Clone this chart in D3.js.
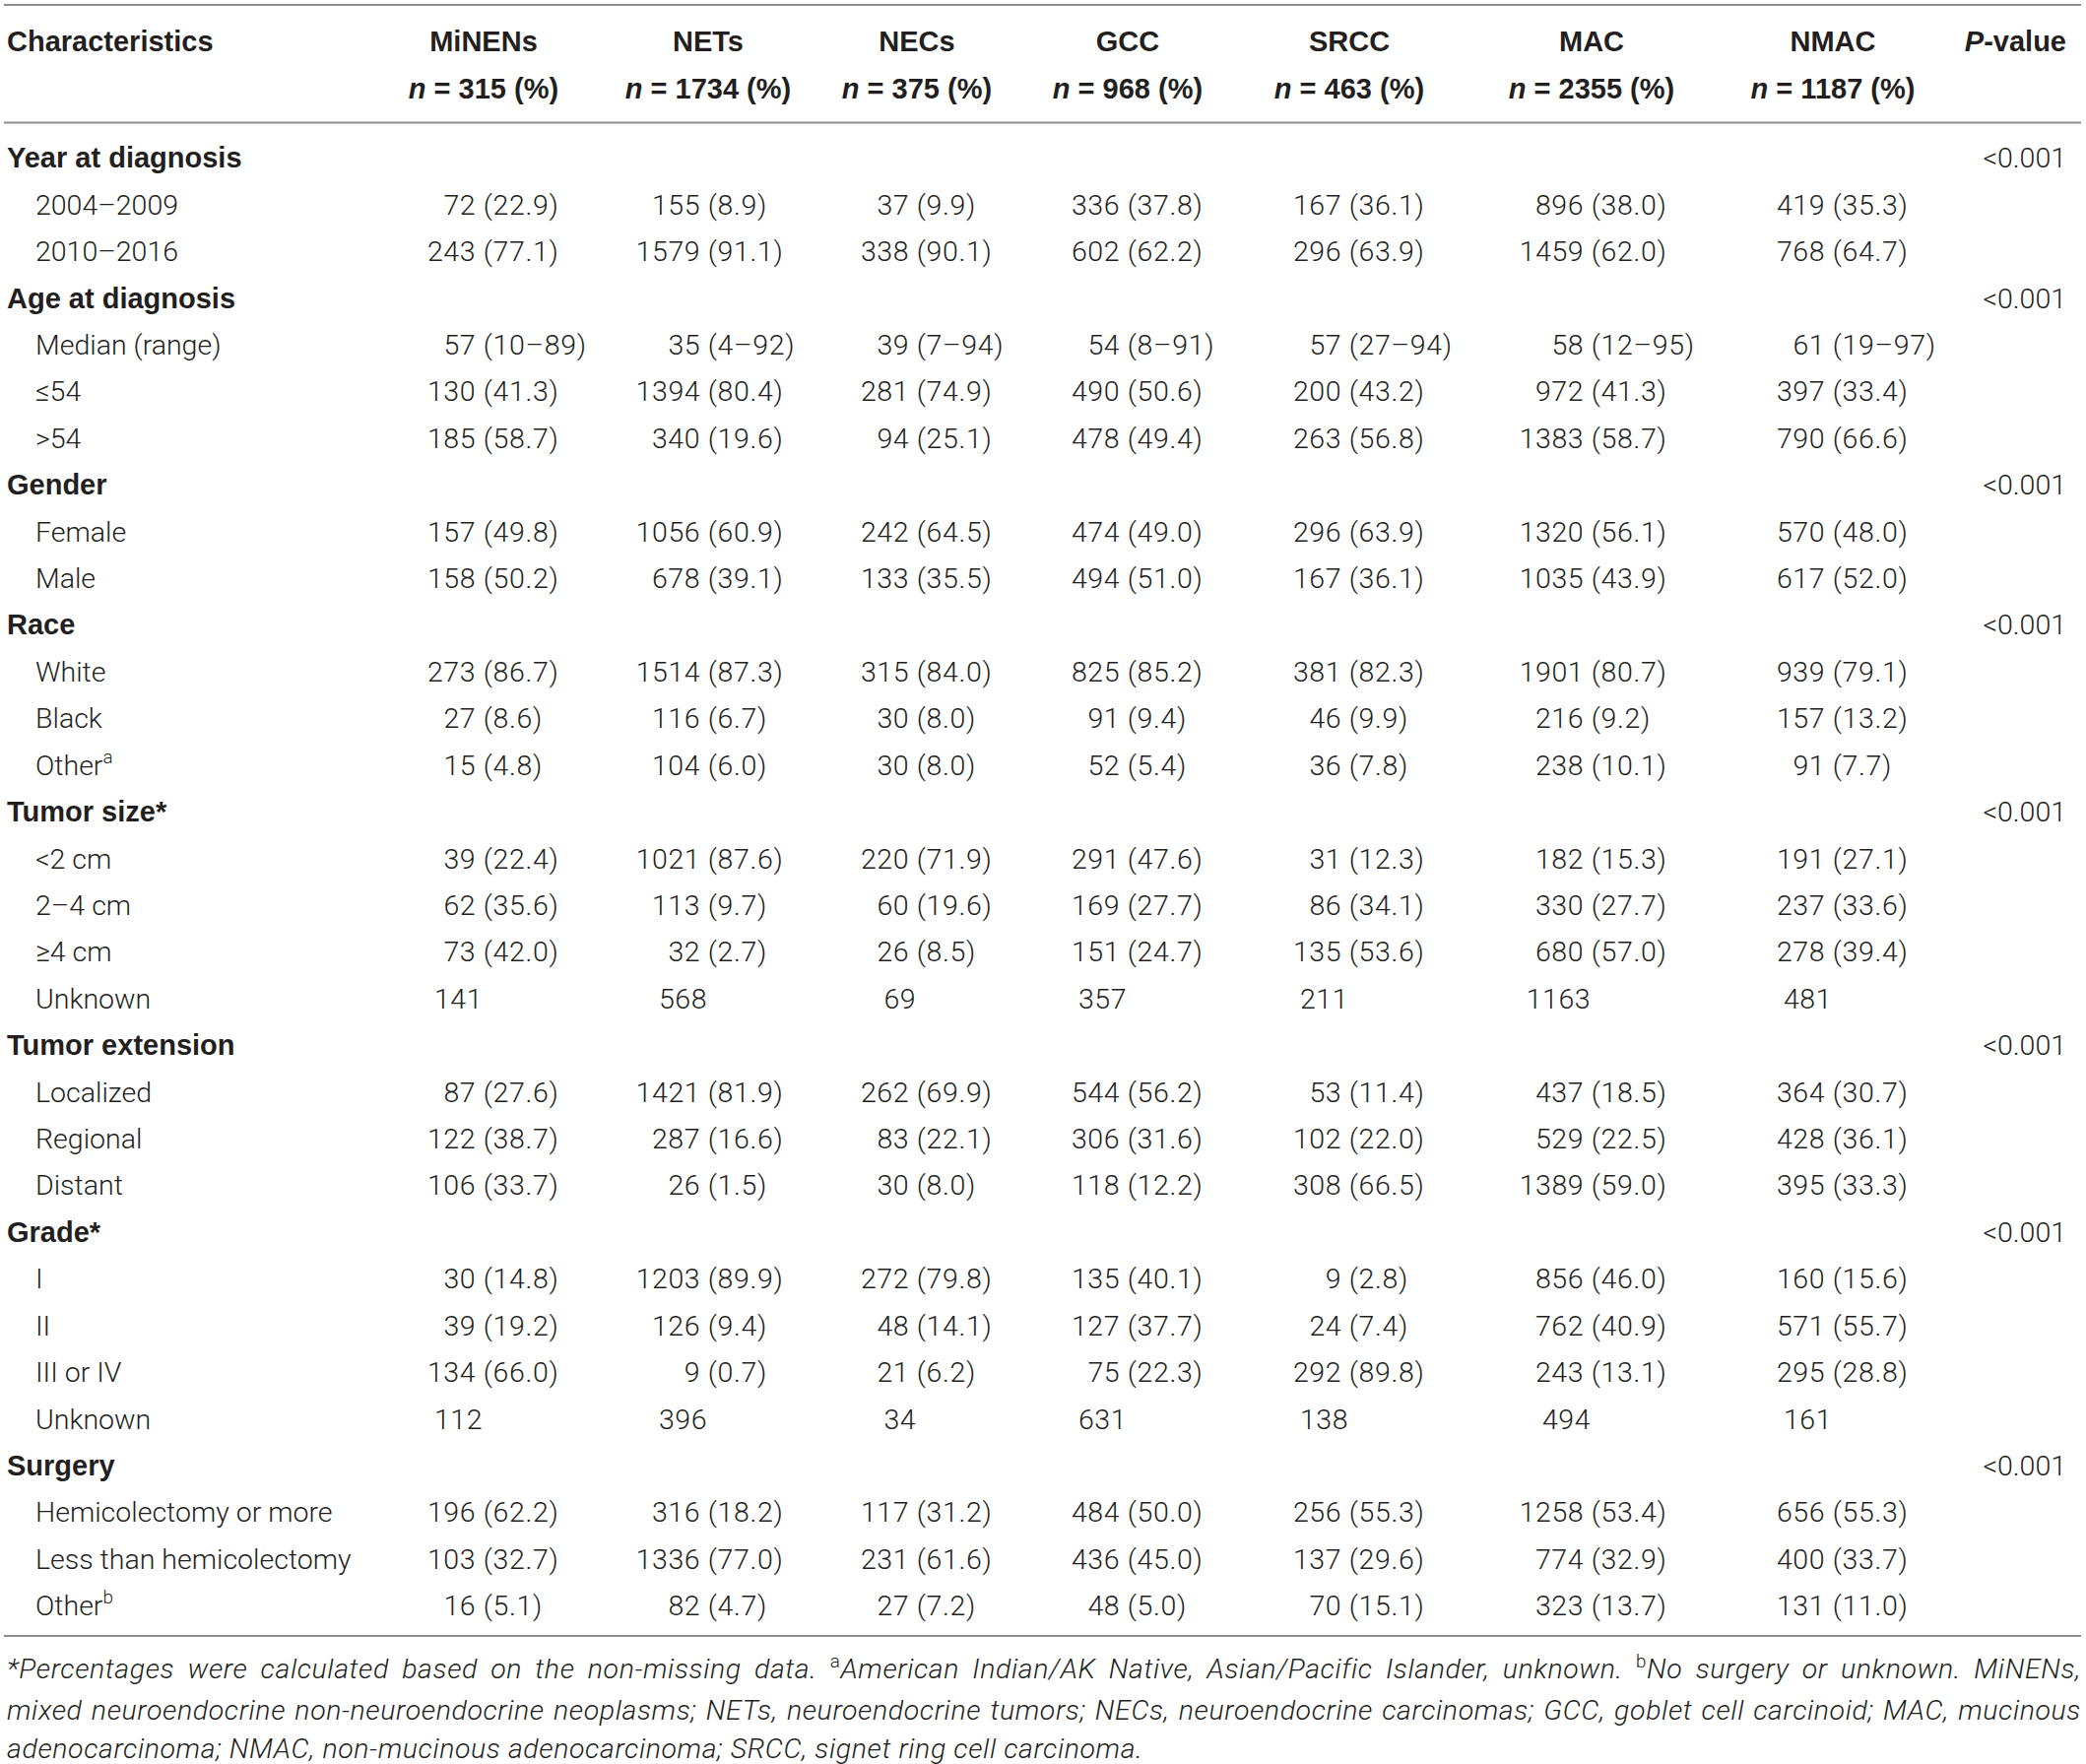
<!DOCTYPE html>
<html><head><meta charset="utf-8">
<script src="https://cdn.jsdelivr.net/npm/d3@7"></script>
<style>
html,body{margin:0;padding:0;background:#fff;}
svg{display:block}
text{white-space:pre}
</style></head><body>
<svg id="chart" width="2118" height="1791"></svg>
<script>
// ---------- data ----------
const groups = ["MiNENs","NETs","NECs","GCC","SRCC","MAC","NMAC"];
const groupN = [315,1734,375,968,463,2355,1187];

const sectionTitles = ["Year at diagnosis","Age at diagnosis","Gender","Race","Tumor size*","Tumor extension","Grade*","Surgery"];
const pValues = ["<0.001","<0.001","<0.001","<0.001","<0.001","<0.001","<0.001","<0.001"];

const yearLabels = ["2004–2009","2010–2016"];
const yearCounts = [[72,155,37,336,167,896,419],[243,1579,338,602,296,1459,768]];
const yearPct = [[22.9,8.9,9.9,37.8,36.1,38.0,35.3],[77.1,91.1,90.1,62.2,63.9,62.0,64.7]];

const ageMedianLabel = "Median (range)";
const ageMedian = [57,35,39,54,57,58,61];
const ageRangeMin = [10,4,7,8,27,12,19];
const ageRangeMax = [89,92,94,91,94,95,97];
const ageLabels = ["≤54",">54"];
const ageCounts = [[130,1394,281,490,200,972,397],[185,340,94,478,263,1383,790]];
const agePct = [[41.3,80.4,74.9,50.6,43.2,41.3,33.4],[58.7,19.6,25.1,49.4,56.8,58.7,66.6]];

const genderLabels = ["Female","Male"];
const genderCounts = [[157,1056,242,474,296,1320,570],[158,678,133,494,167,1035,617]];
const genderPct = [[49.8,60.9,64.5,49.0,63.9,56.1,48.0],[50.2,39.1,35.5,51.0,36.1,43.9,52.0]];

const raceLabels = ["White","Black","Other^a"];
const raceCounts = [[273,1514,315,825,381,1901,939],[27,116,30,91,46,216,157],[15,104,30,52,36,238,91]];
const racePct = [[86.7,87.3,84.0,85.2,82.3,80.7,79.1],[8.6,6.7,8.0,9.4,9.9,9.2,13.2],[4.8,6.0,8.0,5.4,7.8,10.1,7.7]];

const sizeLabels = ["<2 cm","2–4 cm","≥4 cm","Unknown"];
const sizeCounts = [[39,1021,220,291,31,182,191],[62,113,60,169,86,330,237],[73,32,26,151,135,680,278],[141,568,69,357,211,1163,481]];
const sizePct = [[22.4,87.6,71.9,47.6,12.3,15.3,27.1],[35.6,9.7,19.6,27.7,34.1,27.7,33.6],[42.0,2.7,8.5,24.7,53.6,57.0,39.4],null];

const extLabels = ["Localized","Regional","Distant"];
const extCounts = [[87,1421,262,544,53,437,364],[122,287,83,306,102,529,428],[106,26,30,118,308,1389,395]];
const extPct = [[27.6,81.9,69.9,56.2,11.4,18.5,30.7],[38.7,16.6,22.1,31.6,22.0,22.5,36.1],[33.7,1.5,8.0,12.2,66.5,59.0,33.3]];

const gradeLabels = ["I","II","III or IV","Unknown"];
const gradeCounts = [[30,1203,272,135,9,856,160],[39,126,48,127,24,762,571],[134,9,21,75,292,243,295],[112,396,34,631,138,494,161]];
const gradePct = [[14.8,89.9,79.8,40.1,2.8,46.0,15.6],[19.2,9.4,14.1,37.7,7.4,40.9,55.7],[66.0,0.7,6.2,22.3,89.8,13.1,28.8],null];

const surgLabels = ["Hemicolectomy or more","Less than hemicolectomy","Other^b"];
const surgCounts = [[196,316,117,484,256,1258,656],[103,1336,231,436,137,774,400],[16,82,27,48,70,323,131]];
const surgPct = [[62.2,18.2,31.2,50.0,55.3,53.4,55.3],[32.7,77.0,61.6,45.0,29.6,32.9,33.7],[5.1,4.7,7.2,5.0,15.1,13.7,11.0]];

const footnoteLines = [
  "*Percentages were calculated based on the non-missing data. ^aAmerican Indian/AK Native, Asian/Pacific Islander, unknown. ^bNo surgery or unknown. MiNENs,",
  "mixed neuroendocrine non-neuroendocrine neoplasms; NETs, neuroendocrine tumors; NECs, neuroendocrine carcinomas; GCC, goblet cell carcinoid; MAC, mucinous",
  "adenocarcinoma; NMAC, non-mucinous adenocarcinoma; SRCC, signet ring cell carcinoma."
];

// ---------- build table rows ----------
const f1 = d3.format(".1f");
function subRows(labels, counts, pct){
  return labels.map((l,i)=>({type:"sub", label:l,
    cells: counts[i].map((c,j)=>({count:String(c), tail: (pct && pct[i]) ? "(" + f1(pct[i][j]) + ")" : null}))}));
}
const sections = [
  subRows(yearLabels, yearCounts, yearPct),
  [{type:"sub", label:ageMedianLabel, cells: ageMedian.map((m,j)=>({count:String(m), tail:"(" + ageRangeMin[j] + "–" + ageRangeMax[j] + ")"}))}]
    .concat(subRows(ageLabels, ageCounts, agePct)),
  subRows(genderLabels, genderCounts, genderPct),
  subRows(raceLabels, raceCounts, racePct),
  subRows(sizeLabels, sizeCounts, sizePct),
  subRows(extLabels, extCounts, extPct),
  subRows(gradeLabels, gradeCounts, gradePct),
  subRows(surgLabels, surgCounts, surgPct)
];
const rows = [];
sectionTitles.forEach((t,i)=>{
  rows.push({type:"cat", label:t, p:pValues[i]});
  sections[i].forEach(r=>rows.push(r));
});

// ---------- drawing ----------
const svg = d3.select("#chart");
const ink = "#231f20";
const FONT = "Roboto, 'Liberation Sans', Arial, sans-serif";
const BFONT = "'Liberation Sans', Arial, Helvetica, sans-serif";
const FS = 28.5;
const BFS = 29;
const baseOff = FS*0.36;

const rowY = d3.scalePoint().domain(d3.range(rows.length)).range([160, 1630]);
const colX = d3.scaleOrdinal().domain(groups).range([491,719,931,1145,1370,1616,1861]);
const pRight = 2098;
const countShift = -8;

function addLabel(sel, str, fs){
  const parts = str.split("^");
  sel.append("tspan").text(parts[0]);
  if(parts.length>1){
    sel.append("tspan").attr("font-size", fs*0.66).attr("dy", -fs*0.42).text(parts[1]);
  }
}

// rules
const lineColor = "#8e8e8e";
[5, 124.5, 1661].forEach(y=>{
  svg.append("line").attr("x1",4).attr("x2",2113).attr("y1",y).attr("y2",y)
    .attr("stroke",lineColor).attr("stroke-width",2.2);
});

// header
const hdr = svg.append("g").attr("font-family",BFONT).attr("font-weight",700).attr("font-size",BFS).attr("fill",ink);
hdr.append("text").attr("x",7).attr("y",41.7+baseOff).text("Characteristics");
groups.forEach((g,i)=>{
  hdr.append("text").attr("x",colX(g)).attr("y",41.7+baseOff).attr("text-anchor","middle").text(g);
  const t = hdr.append("text").attr("x",colX(g)).attr("y",90+baseOff).attr("text-anchor","middle");
  t.append("tspan").attr("font-style","italic").text("n");
  t.append("tspan").text(" = " + groupN[i] + " (%)");
});
const ph = hdr.append("text").attr("x",pRight).attr("y",41.7+baseOff).attr("text-anchor","end");
ph.append("tspan").attr("font-style","italic").text("P");
ph.append("tspan").text("-value");

// body
const body = svg.append("g").attr("font-family",FONT).attr("font-size",FS).attr("fill",ink);
rows.forEach((r,i)=>{
  const y = rowY(i) + baseOff;
  if(r.type==="cat"){
    body.append("text").attr("x",7).attr("y",y).attr("font-family",BFONT).attr("font-size",BFS).attr("font-weight",700).text(r.label);
    body.append("text").attr("x",pRight).attr("y",y).attr("text-anchor","end").attr("font-weight",300).text(r.p);
  } else {
    const lt = body.append("text").attr("x",36).attr("y",y).attr("font-weight",300);
    addLabel(lt, r.label, FS);
    r.cells.forEach((c,j)=>{
      const cx = colX(groups[j]);
      if(c.tail){
        body.append("text").attr("x",cx+countShift).attr("y",y).attr("text-anchor","end").attr("font-weight",300)
          .attr("letter-spacing",0.5).text(c.count);
        body.append("text").attr("x",cx+countShift).attr("y",y).attr("font-weight",300)
          .attr("letter-spacing",0.7).text(" " + c.tail);
      } else {
        body.append("text").attr("x",cx-1).attr("y",y).attr("text-anchor","end").attr("font-weight",300)
          .attr("letter-spacing",0.5).text(c.count);
      }
    });
  }
});

// footnote
const FFS = 28.5;
const footY = [1694, 1735.5, 1774.5];
const foot = svg.append("g").attr("font-family",FONT).attr("font-size",FFS).attr("fill",ink)
  .attr("font-style","italic").attr("font-weight",300).attr("letter-spacing",0.6);
footnoteLines.forEach((line,i)=>{
  const t = foot.append("text").attr("x",7).attr("y",footY[i]+FFS*0.36);
  const re = /\^(.)/g;
  let last = 0, m, pendingDown = false;
  while((m = re.exec(line))){
    const s = t.append("tspan").text(line.slice(last, m.index));
    if(pendingDown){ s.attr("dy", FFS*0.4); pendingDown=false; }
    t.append("tspan").attr("font-size",FFS*0.66).attr("font-style","normal").attr("dy",-FFS*0.4).text(m[1]);
    pendingDown = true;
    last = m.index + 2;
  }
  const s = t.append("tspan").text(line.slice(last));
  if(pendingDown) s.attr("dy", FFS*0.4);
  if(i < footnoteLines.length-1){
    const node = t.node();
    const natural = node.getComputedTextLength();
    const spaces = (node.textContent.match(/ /g)||[]).length;
    const target = 2113 - 7;
    t.attr("word-spacing", Math.max(0,(target - natural)/spaces));
  }
});
</script>
</body></html>
